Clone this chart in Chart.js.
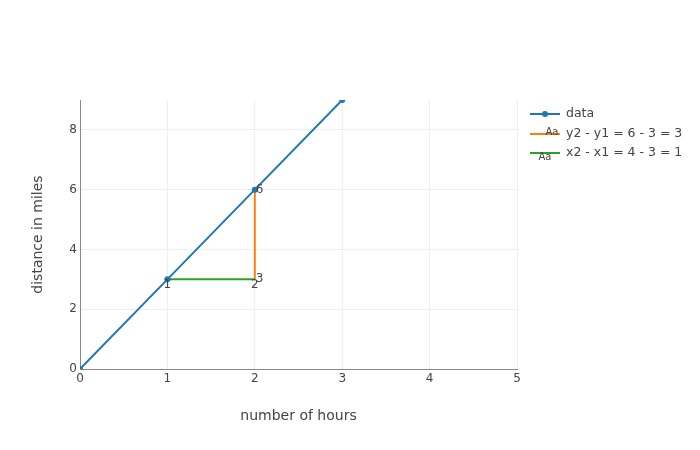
<!DOCTYPE html>
<html>
<head>
<meta charset="utf-8">
<script src="https://cdn.jsdelivr.net/npm/chart.js@4/dist/chart.umd.min.js"></script>
<style>
  body { margin: 0; background: #fff; }
</style>
</head>
<body>
<canvas id="chart" width="700" height="450"></canvas>
<script>
// data
const hours = [0, 1, 2, 3]
const miles = [0, 3, 6, 9]

const riseX = [2, 2]
const riseY = [3, 6]
const riseText = ['3', '6']

const runX = [1, 2]
const runY = [3, 3]
const runText = ['1', '2']

const seriesNames = ['data', 'y2 - y1 = 6 - 3 = 3', 'x2 - x1 = 4 - 3 = 1']
const xTicks = [0, 1, 2, 3, 4, 5]
const yTicks = [0, 2, 4, 6, 8]

const blue = '#1f77b4'
const orange = '#ff7f0e'
const green = '#2ca02c'
const fontFamily = '"DejaVu Sans", sans-serif'

function toPoints(xs, ys) {
    return xs.map((x, i) => ({ x: x, y: ys[i] }))
}

// labels next to the points of the rise / run lines
const pointLabels = {
    id: 'pointLabels',
    afterDatasetsDraw(chart) {
        const ctx = chart.ctx
        ctx.save()
        ctx.font = '12px ' + fontFamily
        ctx.fillStyle = '#444'
        chart.data.datasets.forEach((ds, i) => {
            if (!ds.texts) return
            const meta = chart.getDatasetMeta(i)
            meta.data.forEach((pt, j) => {
                if (ds.textPos == 'right') {
                    ctx.textAlign = 'left'
                    ctx.textBaseline = 'middle'
                    ctx.fillText(ds.texts[j], pt.x + 1, pt.y)
                } else {
                    ctx.textAlign = 'center'
                    ctx.textBaseline = 'middle'
                    ctx.fillText(ds.texts[j], pt.x, pt.y + 6)
                }
            })
        })
        ctx.restore()
    }
}

// plotly-like legend on the right
const sideLegend = {
    id: 'sideLegend',
    afterDraw(chart) {
        const ctx = chart.ctx
        const x0 = 530, x1 = 560
        const rows = [114, 134, 153]
        ctx.save()
        chart.data.datasets.forEach((ds, i) => {
            const y = rows[i]
            ctx.strokeStyle = ds.borderColor
            ctx.lineWidth = 2
            ctx.beginPath()
            ctx.moveTo(x0, y)
            ctx.lineTo(x1, y)
            ctx.stroke()
            if (i == 0) {
                ctx.fillStyle = ds.borderColor
                ctx.beginPath()
                ctx.arc((x0 + x1) / 2, y, 3, 0, Math.PI * 2)
                ctx.fill()
            } else {
                ctx.fillStyle = '#444'
                ctx.font = '10px ' + fontFamily
                ctx.textAlign = 'center'
                ctx.textBaseline = 'middle'
                if (i == 1) ctx.fillText('Aa', 552, y - 2)
                else ctx.fillText('Aa', 545, y + 4)
            }
            ctx.fillStyle = '#444'
            ctx.font = '12.5px ' + fontFamily
            ctx.textAlign = 'left'
            ctx.textBaseline = 'middle'
            ctx.fillText(seriesNames[i], 566, y)
        })
        ctx.restore()
    }
}

const config = {
    type: 'scatter',
    data: {
        datasets: [
            {
                label: seriesNames[0],
                data: toPoints(hours, miles),
                showLine: true,
                borderColor: blue,
                backgroundColor: blue,
                borderWidth: 2,
                pointRadius: 3,
                pointBorderWidth: 0
            },
            {
                label: seriesNames[1],
                data: toPoints(riseX, riseY),
                showLine: true,
                borderColor: orange,
                backgroundColor: orange,
                borderWidth: 2,
                pointRadius: 0,
                texts: riseText,
                textPos: 'right'
            },
            {
                label: seriesNames[2],
                data: toPoints(runX, runY),
                showLine: true,
                borderColor: green,
                backgroundColor: green,
                borderWidth: 2,
                pointRadius: 0,
                texts: runText,
                textPos: 'bottom'
            }
        ]
    },
    options: {
        responsive: false,
        animation: false,
        layout: {
            padding: { top: 100, right: 183, bottom: 21, left: 26 }
        },
        plugins: {
            legend: { display: false },
            tooltip: { enabled: false }
        },
        scales: {
            x: {
                type: 'linear',
                min: 0,
                max: 5,
                afterBuildTicks: (scale) => { scale.ticks = xTicks.map(v => ({ value: v })) },
                afterFit: (scale) => { scale.height = 60 },
                ticks: {
                    color: '#444',
                    padding: 3,
                    font: { family: fontFamily, size: 12 }
                },
                grid: { color: '#eee', drawTicks: false },
                border: { color: '#888', width: 1 },
                title: {
                    display: true,
                    text: 'number of hours',
                    color: '#444',
                    font: { family: fontFamily, size: 14 }
                }
            },
            y: {
                type: 'linear',
                min: 0,
                max: 9,
                afterBuildTicks: (scale) => { scale.ticks = yTicks.map(v => ({ value: v })) },
                afterFit: (scale) => { scale.width = 54 },
                ticks: {
                    color: '#444',
                    padding: 3,
                    font: { family: fontFamily, size: 12 }
                },
                grid: { color: '#eee', drawTicks: false },
                border: { color: '#888', width: 1 },
                title: {
                    display: true,
                    text: 'distance in miles',
                    color: '#444',
                    font: { family: fontFamily, size: 14 }
                }
            }
        }
    },
    plugins: [pointLabels, sideLegend]
}

new Chart(document.getElementById('chart'), config)
</script>
</body>
</html>
